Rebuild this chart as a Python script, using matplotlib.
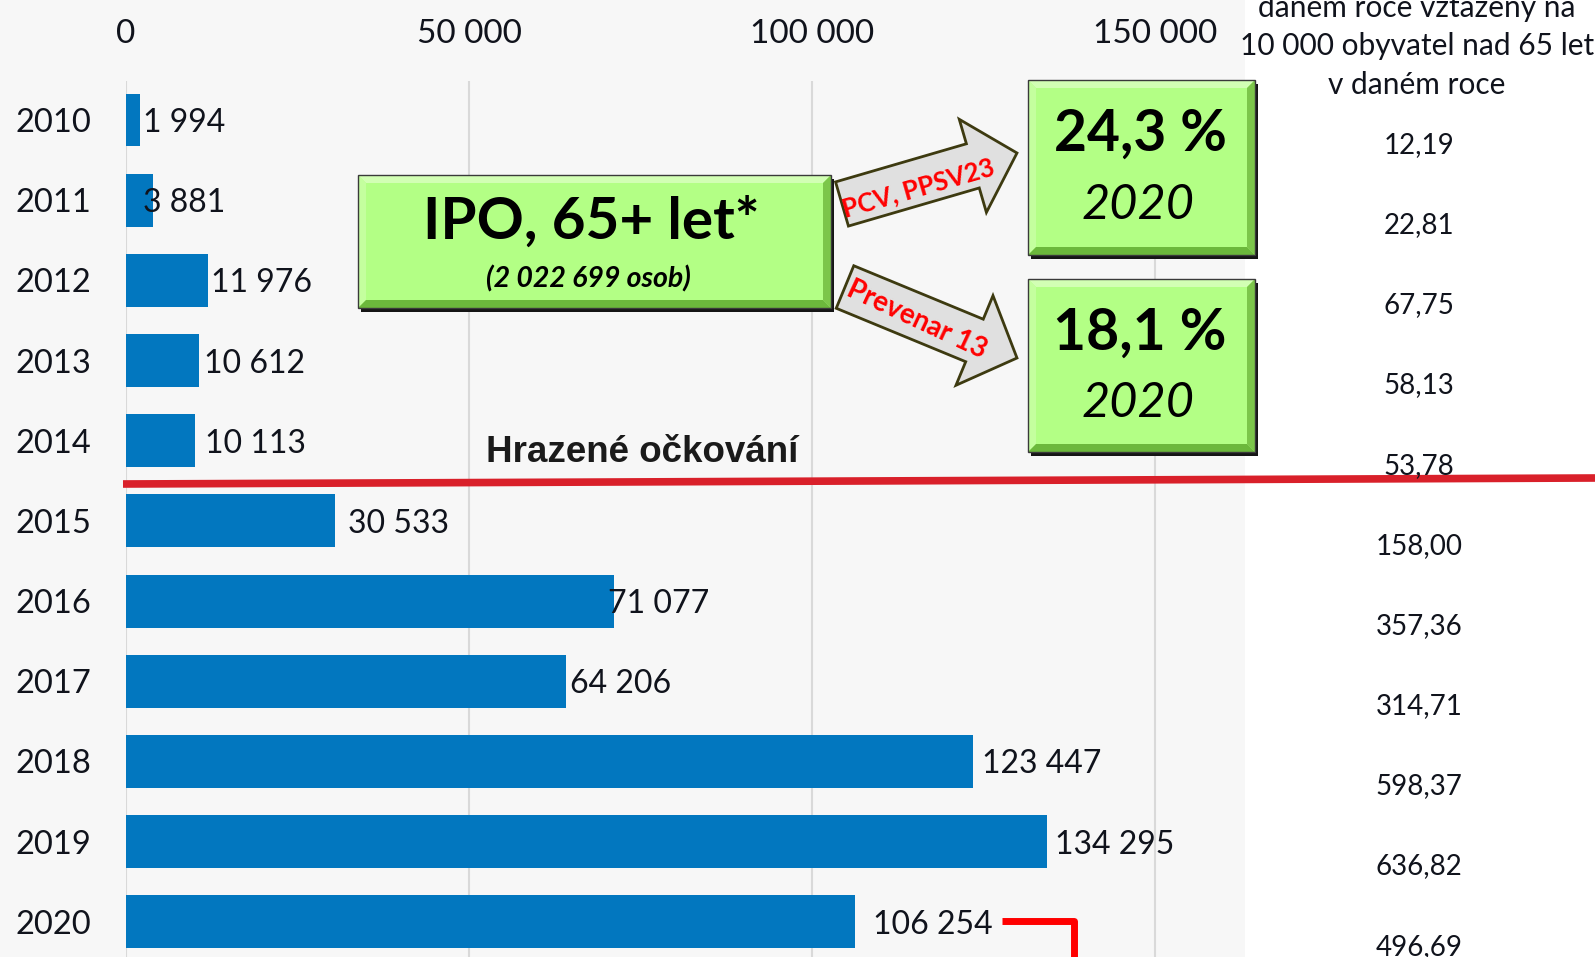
import matplotlib
matplotlib.use("Agg")
import matplotlib.pyplot as plt
from matplotlib.patches import Rectangle, Polygon, FancyArrow
from matplotlib.transforms import blended_transform_factory

plt.rcParams["font.family"] = ["Lato", "DejaVu Sans"]

years = ["2010", "2011", "2012", "2013", "2014", "2015",
         "2016", "2017", "2018", "2019", "2020"]
doses = [1994, 3881, 11976, 10612, 10113, 30533,
         71077, 64206, 123447, 134295, 106254]
dose_labels = ["1 994", "3 881", "11 976", "10 612", "10 113", "30 533",
               "71 077", "64 206", "123 447", "134 295", "106 254"]
rate_labels = ["12,19", "22,81", "67,75", "58,13", "53,78", "158,00",
               "357,36", "314,71", "598,37", "636,82", "496,69"]
x_ticks = [0, 50000, 100000, 150000]
x_tick_labels = ["0", "50 000", "100 000", "150 000"]

# label gap from bar end, in pixels (labels in the slide were nudged by hand)
label_gap = [3, -10, 3, 5, 10, 13, -6, 4, 9, 8, 18]

BLUE = "#0277bf"
BG = "#f7f7f7"
TXT = "#10131c"

W, H = 1595, 957
fig = plt.figure(figsize=(W / 100, H / 100), dpi=100)
fig.patch.set_facecolor("white")
fig.patches.append(Rectangle((0, 0), 1245 / W, 1, transform=fig.transFigure,
                             facecolor=BG, edgecolor="none", zorder=-10))

ax = fig.add_axes([126 / W, 0, (1245 - 126) / W, 1 - 81 / H])
ax.set_facecolor(BG)
ypos = list(range(len(years)))
ax.barh(ypos, doses, height=0.66, color=BLUE, zorder=3)
ax.set_xlim(0, 1119 / 343 * 50000)
ax.set_ylim(10.44, -0.487)
ax.xaxis.tick_top()
ax.set_xticks(x_ticks)
ax.set_xticklabels(x_tick_labels, fontsize=24, color=TXT)
ax.set_yticks(ypos)
ax.set_yticklabels(years, fontsize=23.5, color=TXT)
ax.tick_params(axis="x", length=0, pad=23)
ax.tick_params(axis="y", length=0, pad=25)
ax.grid(axis="x", color="#d9d9d9", linewidth=1.5, zorder=0)
for s in ax.spines.values():
    s.set_visible(False)

for i, (v, lab) in enumerate(zip(doses, dose_labels)):
    ax.annotate(lab, (v, i), xytext=(label_gap[i], -3), textcoords="offset pixels",
                ha="left", va="center", fontsize=23, color=TXT, zorder=4)

# overlay in pixel coordinates for the slide decorations
ov = fig.add_axes([0, 0, 1, 1], zorder=5)
ov.set_xlim(0, W)
ov.set_ylim(H, 0)
ov.axis("off")
ov.patch.set_alpha(0)

# right column: rate per 10 000 inhabitants over 65
tr = blended_transform_factory(ov.transData, ax.transData)
for i, lab in enumerate(rate_labels):
    ov.text(1419, i + 0.31, lab, transform=tr, ha="center", va="center",
            fontsize=20, color=TXT, clip_on=False)

for y, line in [(8, "daném roce vztažený na"),
                (46, "10 000 obyvatel nad 65 let"),
                (85, "v daném roce")]:
    ov.text(1417, y, line, ha="center", va="center", fontsize=21.5, color=TXT)

# red divider between unpaid and paid vaccination
ov.plot([123, 1595], [484, 478], color="#d9202a", lw=5.5, solid_capstyle="butt")
ov.text(642, 453, "Hrazené očkování", ha="center", va="center", fontsize=26.5,
        fontweight="bold", family="Liberation Sans", color="#1a1a1a")

# red bracket at the bottom
ov.plot([1002, 1074, 1074], [921, 921, 970], color="red", lw=5,
        solid_joinstyle="round", solid_capstyle="butt", clip_on=False)


def bevel_box(x0, y0, x1, y1, b=8):
    w, h = x1 - x0, y1 - y0
    ov.add_patch(Rectangle((x0 + 3, y0 + 4), w, h, fc="#151515", ec="none"))
    ov.add_patch(Rectangle((x0, y0), w, h, fc="#b3ff85", ec="none"))
    ov.add_patch(Polygon([(x0, y0), (x1, y0), (x1 - b, y0 + b), (x0 + b, y0 + b)],
                         fc="#d2ffb4", ec="none"))
    ov.add_patch(Polygon([(x0, y0), (x0 + b, y0 + b), (x0 + b, y1 - b), (x0, y1)],
                         fc="#c4ff9e", ec="none"))
    ov.add_patch(Polygon([(x1, y0), (x1, y1), (x1 - b, y1 - b), (x1 - b, y0 + b)],
                         fc="#7cc64a", ec="none"))
    ov.add_patch(Polygon([(x0, y1), (x1, y1), (x1 - b, y1 - b), (x0 + b, y1 - b)],
                         fc="#6cb83c", ec="none"))
    ov.add_patch(Rectangle((x0, y0), w, h, fc="none", ec="#3a3a3a", lw=1))


bevel_box(358, 175, 831, 308)
ov.text(591, 222, "IPO, 65+ let*", ha="center", va="center", fontsize=42,
        fontweight="bold", color="black")
ov.text(588, 279, "(2 022 699 osob)", ha="center", va="center", fontsize=20.5,
        fontweight="bold", style="italic", color="black")

bevel_box(1028, 80, 1255, 255)
ov.text(1140, 134, "24,3 %", ha="center", va="center", fontsize=41,
        fontweight="bold", color="black")
ov.text(1138, 205, "2020", ha="center", va="center", fontsize=35,
        style="italic", color="black")

bevel_box(1028, 279, 1255, 452)
ov.text(1140, 333, "18,1 %", ha="center", va="center", fontsize=41,
        fontweight="bold", color="black")
ov.text(1138, 403, "2020", ha="center", va="center", fontsize=35,
        style="italic", color="black")

# arrows to the coverage boxes
for (x, y, dx, dy) in [(842, 204, 175, -51), (845, 287, 172, 71)]:
    ov.add_patch(FancyArrow(x, y, dx, dy, width=46, head_width=97, head_length=46,
                            length_includes_head=True, fc="#e0e0e0",
                            ec="#3d3a10", lw=2))
ov.text(918, 188, "PCV, PPSV23", ha="center", va="center", rotation=16,
        rotation_mode="anchor", fontsize=18.5, fontweight="bold", color="red")
ov.text(917, 320, "Prevenar 13", ha="center", va="center", rotation=-25,
        rotation_mode="anchor", fontsize=20, fontweight="bold", color="red")

fig.savefig("out.png", dpi=100)
